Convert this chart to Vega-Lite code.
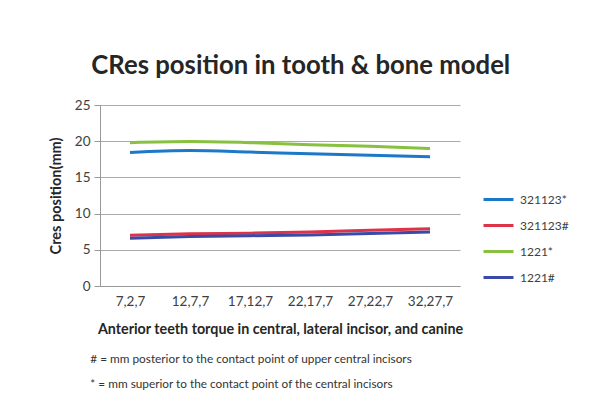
{
  "$schema": "https://vega.github.io/schema/vega-lite/v6.json",
  "background": "white",
  "padding": {"left": 48, "top": 53, "right": 10, "bottom": 5},
  "title": {
    "text": "CRes position in tooth & bone model",
    "font": "Lato",
    "fontSize": 25.7,
    "fontWeight": "bold",
    "color": "#262626",
    "anchor": "start",
    "offset": 18,
    "dx": 43
  },
  "config": {
    "font": "Lato",
    "view": {"stroke": null},
    "axis": {"labelFont": "Lato", "titleFont": "Lato", "labelColor": "#404040", "titleColor": "#262626"}
  },
  "vconcat": [
    {
      "width": 360,
      "height": 181,
      "title": {
        "text": "# = mm  posterior to the contact point of upper central incisors",
        "subtitle": "* = mm  superior to the contact point of the central incisors",
        "orient": "bottom",
        "anchor": "start",
        "font": "Lato",
        "fontSize": 11.8,
        "fontWeight": "normal",
        "color": "#333333",
        "subtitleFont": "Lato",
        "subtitleFontSize": 11.8,
        "subtitleColor": "#333333",
        "subtitlePadding": 13,
        "offset": 17,
        "dx": 42
      },
      "data": {
        "values": [
          {"torque": "7,2,7", "series": "321123*", "value": 18.45},
          {"torque": "12,7,7", "series": "321123*", "value": 18.7},
          {"torque": "17,12,7", "series": "321123*", "value": 18.5},
          {"torque": "22,17,7", "series": "321123*", "value": 18.25},
          {"torque": "27,22,7", "series": "321123*", "value": 18.05},
          {"torque": "32,27,7", "series": "321123*", "value": 17.85},
          {"torque": "7,2,7", "series": "321123#", "value": 7.0},
          {"torque": "12,7,7", "series": "321123#", "value": 7.2},
          {"torque": "17,12,7", "series": "321123#", "value": 7.3},
          {"torque": "22,17,7", "series": "321123#", "value": 7.45},
          {"torque": "27,22,7", "series": "321123#", "value": 7.7},
          {"torque": "32,27,7", "series": "321123#", "value": 7.9},
          {"torque": "7,2,7", "series": "1221*", "value": 19.8},
          {"torque": "12,7,7", "series": "1221*", "value": 19.95},
          {"torque": "17,12,7", "series": "1221*", "value": 19.8},
          {"torque": "22,17,7", "series": "1221*", "value": 19.5},
          {"torque": "27,22,7", "series": "1221*", "value": 19.3},
          {"torque": "32,27,7", "series": "1221*", "value": 19.0},
          {"torque": "7,2,7", "series": "1221#", "value": 6.6},
          {"torque": "12,7,7", "series": "1221#", "value": 6.85},
          {"torque": "17,12,7", "series": "1221#", "value": 6.95},
          {"torque": "22,17,7", "series": "1221#", "value": 7.05},
          {"torque": "27,22,7", "series": "1221#", "value": 7.25},
          {"torque": "32,27,7", "series": "1221#", "value": 7.45}
        ]
      },
      "mark": {"type": "line", "strokeWidth": 3, "interpolate": "monotone"},
      "encoding": {
        "x": {
          "field": "torque",
          "type": "ordinal",
          "sort": ["7,2,7", "12,7,7", "17,12,7", "22,17,7", "27,22,7", "32,27,7"],
          "scale": {"type": "point", "padding": 0.5},
          "axis": {
            "title": "Anterior teeth torque in central, lateral incisor, and canine",
            "titleFontSize": 14.3,
            "titleFontWeight": "bold",
            "titlePadding": 15,
            "labelFontSize": 13.5,
            "labelAngle": 0,
            "labelPadding": 8,
            "ticks": false,
            "domainColor": "#999999",
            "grid": false
          }
        },
        "y": {
          "field": "value",
          "type": "quantitative",
          "scale": {"domain": [0, 25]},
          "axis": {
            "title": "Cres position(mm)",
            "titleFontSize": 14.5,
            "titleFontWeight": "bold",
            "titlePadding": 11,
            "labelFontSize": 13.5,
            "labelPadding": 4,
            "values": [0, 5, 10, 15, 20, 25],
            "tickColor": "#999999",
            "tickSize": 6,
            "domainColor": "#999999",
            "gridColor": "#aaaaaa",
            "gridWidth": 1
          }
        },
        "color": {
          "field": "series",
          "type": "nominal",
          "sort": ["321123*", "321123#", "1221*", "1221#"],
          "scale": {
            "domain": ["321123*", "321123#", "1221*", "1221#"],
            "range": ["#1c78c8", "#dc3348", "#88c040", "#3a4aa8"]
          },
          "legend": {
            "title": null,
            "orient": "none",
            "legendX": 382,
            "legendY": 78,
            "symbolType": "stroke",
            "symbolSize": 900,
            "symbolStrokeWidth": 3,
            "labelFontSize": 12,
            "labelColor": "#404040",
            "labelOffset": 5,
            "rowPadding": 3
          }
        }
      }
    }
  ]
}
